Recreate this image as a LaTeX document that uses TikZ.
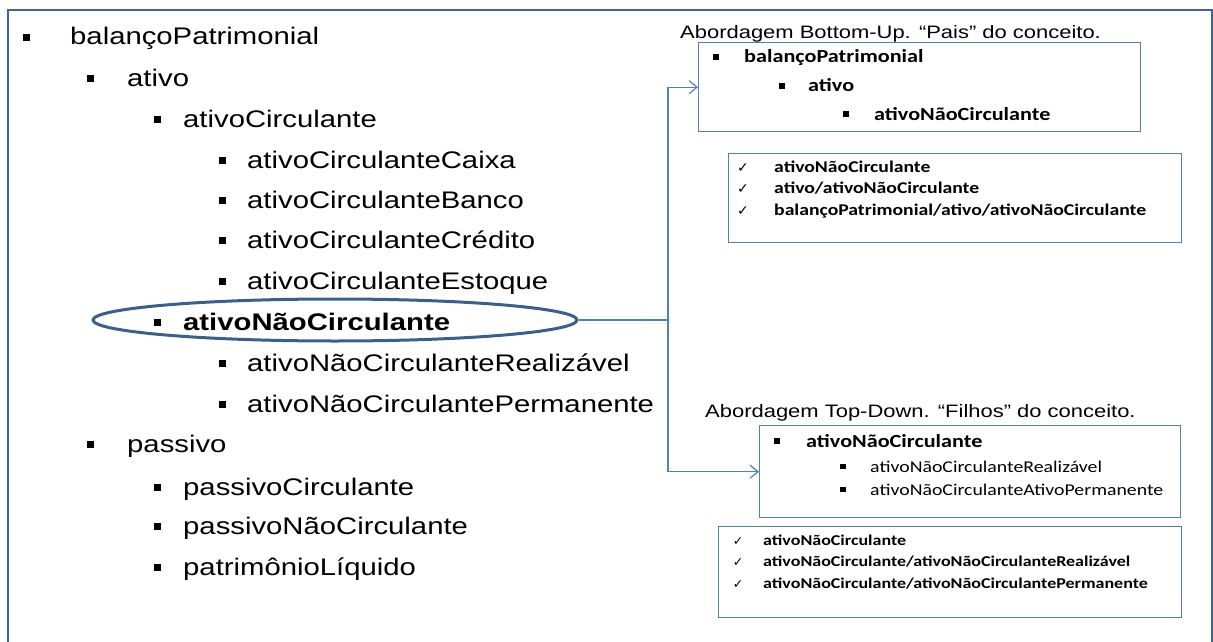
\documentclass[tikz,border=0pt]{standalone}
\usepackage{fontspec}
\setmainfont{Liberation Sans}[FakeStretch=1.22]
\newfontfamily\calib{Carlito}[FakeStretch=1.2]
\newfontfamily\symf{DejaVu Sans}
\usetikzlibrary{shapes.geometric,arrows.meta}

\definecolor{frameblue}{HTML}{3C6496}
\definecolor{lineblue}{HTML}{4F81BD}
\definecolor{ellblue}{HTML}{3A5F8F}

\tikzset{
  lst/.style={anchor=base west, inner sep=0pt, font=\fontsize{24}{28}\selectfont},
  lstb/.style={lst, font=\fontsize{24}{28}\selectfont\bfseries},
  sq/.style={fill=black, inner sep=0pt, minimum size=#1},
  sq/.default=7,
  title/.style={anchor=base west, inner sep=0pt, font=\fontsize{18}{22}\selectfont},
  panel/.style={draw=lineblue, line width=1.4pt, anchor=north west, inner sep=0pt},
  ptxt/.style={anchor=base west, inner sep=0pt},
  chk/.style={anchor=base, inner sep=0pt, font=\symf\fontsize{14}{16}\selectfont},
  chks/.style={anchor=base, inner sep=0pt, font=\symf\fontsize{12.5}{15}\selectfont},
  conn/.style={draw=lineblue, line width=1.3pt},
  tip/.style={-{Straight Barb[length=8pt,width=13pt,line width=1.2pt]}}
}

\begin{document}
\begin{tikzpicture}[x=1pt,y=-1pt]
\useasboundingbox (0,0) rectangle (1213,642);

% outer frame (open at the bottom edge)
\draw[frameblue, line width=2pt] (8,642) -- (8,10.5) -- (1211.5,10.5) -- (1211.5,642);

% ---- main hierarchy ----
\node[sq] (b0) at (26.5,37.5) {};   \node[lst] (t0) at (70,45) {balançoPatrimonial};
\node[sq] (b1) at (90.5,78.5) {};   \node[lst] (t1) at (127,86) {ativo};
\node[sq] (b2) at (157.5,119.5) {}; \node[lst] (t2) at (183,127) {ativoCirculante};
\node[sq] (b3) at (222.5,160.5) {}; \node[lst] (t3) at (247,168) {ativoCirculanteCaixa};
\node[sq] (b4) at (222.5,200.5) {}; \node[lst] (t4) at (247,208) {ativoCirculanteBanco};
\node[sq] (b5) at (222.5,240.5) {}; \node[lst] (t5) at (247,248) {ativoCirculanteCrédito};
\node[sq] (b6) at (222.5,281.5) {}; \node[lst] (t6) at (247,289) {ativoCirculanteEstoque};
\node[sq] (b7) at (157.5,322.5) {}; \node[lstb] (t7) at (183,330) {ativoNãoCirculante};
\node[sq] (b8) at (222.5,363.5) {}; \node[lst] (t8) at (247,371) {ativoNãoCirculanteRealizável};
\node[sq] (b9) at (222.5,404.5) {}; \node[lst] (t9) at (247,412) {ativoNãoCirculantePermanente};
\node[sq] (b10) at (90.5,444.5) {}; \node[lst] (t10) at (127,452) {passivo};
\node[sq] (b11) at (157.5,487.5) {}; \node[lst] (t11) at (183,495) {passivoCirculante};
\node[sq] (b12) at (157.5,526.5) {}; \node[lst] (t12) at (183,534) {passivoNãoCirculante};
\node[sq] (b13) at (157.5,567.5) {}; \node[lst] (t13) at (183,575) {patrimônioLíquido};

% highlighted concept
\node[draw=ellblue, line width=3pt, ellipse, minimum width=484pt, minimum height=42pt, inner sep=0pt] (sel) at (335,320) {};

% ---- bottom-up panel ----
\node[title] (tbu) at (680,39) {Abordagem Bottom-Up. “Pais” do conceito.};
\node[panel, minimum width=442pt, minimum height=89pt] (bu) at (698,42) {};
\begin{scope}[every node/.append style={font=\calib\bfseries\fontsize{18.5}{22}\selectfont}]
\node[sq=6] (bu1b) at (715.5,57) {}; \node[ptxt] (bu1) at (744,63) {balançoPatrimonial};
\node[sq=6] (bu2b) at (781.5,86) {}; \node[ptxt] (bu2) at (808,92) {ativo};
\node[sq=6] (bu3b) at (845.5,114) {}; \node[ptxt] (bu3) at (874,120) {ativoNãoCirculante};
\end{scope}

\node[panel, minimum width=453pt, minimum height=89pt] (bup) at (728,153) {};
\begin{scope}[every node/.append style={font=\calib\bfseries\fontsize{16.4}{20}\selectfont}]
\node[chk] (bc1) at (743,172) {✓}; \node[ptxt] (bp1) at (774,172) {ativoNãoCirculante};
\node[chk] (bc2) at (743,193) {✓}; \node[ptxt] (bp2) at (774,193) {ativo/ativoNãoCirculante};
\node[chk] (bc3) at (743,215) {✓}; \node[ptxt] (bp3) at (774,215) {balançoPatrimonial/ativo/ativoNãoCirculante};
\end{scope}

% ---- top-down panel ----
\node[title] (ttd) at (705,417) {Abordagem Top-Down. “Filhos” do conceito.};
\node[panel, minimum width=421pt, minimum height=92pt] (td) at (759,425) {};
\node[sq=6] (td1b) at (777,441) {};
\node[ptxt, font=\calib\bfseries\fontsize{18.5}{22}\selectfont] (td1) at (806,447) {ativoNãoCirculante};
\node[sq=5.5] (td2b) at (843,466.5) {};
\node[ptxt, font=\calib\fontsize{16.5}{20}\selectfont] (td2) at (870,472) {ativoNãoCirculanteRealizável};
\node[sq=5.5] (td3b) at (843,489.5) {};
\node[ptxt, font=\calib\fontsize{16.5}{20}\selectfont] (td3) at (870,495) {ativoNãoCirculanteAtivoPermanente};

\node[panel, minimum width=463pt, minimum height=91pt] (tdp) at (718,526) {};
\begin{scope}[every node/.append style={font=\calib\bfseries\fontsize{15}{18}\selectfont}]
\node[chks] (tc1) at (738,545) {✓}; \node[ptxt] (tp1) at (763,545) {ativoNãoCirculante};
\node[chks] (tc2) at (738,566) {✓}; \node[ptxt] (tp2) at (763,566) {ativoNãoCirculante/ativoNãoCirculanteRealizável};
\node[chks] (tc3) at (738,588) {✓}; \node[ptxt] (tp3) at (763,588) {ativoNãoCirculante/ativoNãoCirculantePermanente};
\end{scope}

% ---- connectors ----
\coordinate (jn) at (668,320);
\draw[conn] (sel.east) -- (jn);
\draw[conn, tip] (jn) |- (bu.west);
\draw[conn, tip] (jn) |- (td.west);
\end{tikzpicture}
\end{document}
